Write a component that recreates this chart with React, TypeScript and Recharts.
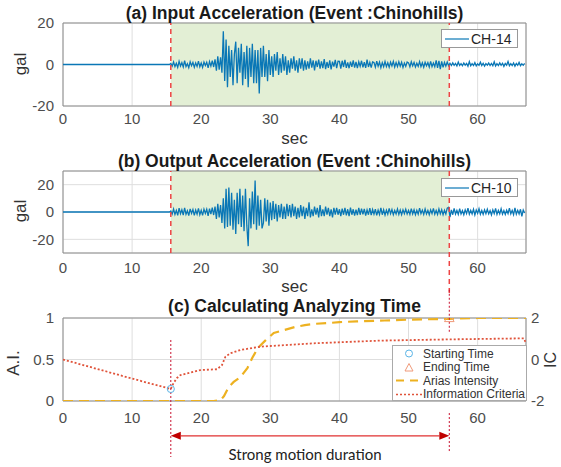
import {
  CartesianGrid,
  ComposedChart,
  Legend,
  Line,
  ReferenceArea,
  ReferenceLine,
  Scatter,
  XAxis,
  YAxis,
  ZAxis,
} from "recharts";

const FONT = "'Liberation Sans', Arial, sans-serif";

// ---- data ----
const timeTicks = [0, 10, 20, 30, 40, 50, 60];
const inputTicks = [-20, 0, 20];
const outputTicks = [-20, 0, 20];
const aiTicks = [0, 0.5, 1];
const icTicks = [-2, 0, 2];

const startTime = 15.6;
const endTime = 55.9;

// quiet part before the first arrival (flat zero)
const quietTimes = [0, 15.4];
// sampled part of the records
const sampleStart = 15.6;
const sampleStep = 0.2;

// (a) CH-14, gal
const inputAcc = [
  0.5, -0.8, 1.2, -1.0, 0.6, -1.4, 1.5, -0.7, 0.9, -1.2, 1.8, -1.0, 0.4, -1.5, 1.3, -0.6,
  1.0, -1.3, 0.8, -0.9, 1.6, -1.1, 0.7, -1.4, 1.2, -0.5, 1.1, -1.6, 1.4, -0.8, 1.9, -1.2,
  2.5, -3.0, 4.0, -2.5, 3.5,
  -4, 16, -8, 12, -11,
  9, -6, 7, -10, 5,
  11, -9, 8, -4, 10,
  -10, 6, -7, 9, -11,
  8, -6, 10, -9, 7,
  -9, 7, -14, 8, -6,
  9, -6, 5, -8, 7,
  -5, 4, -6, 5, -3,
  6, -5, 3, -4, 5,
  -3, 4, -5, 2, -4,
  3, -2, 4, -3, 2,
  -4, 3, -2, 3, -3,
  2, -2.5, 1.5, -2, 3, -1.5, 2, -2.8, 1.8, -1.2, 2.4, -2, 1.5, -1.8, 2.6, -2.2, 1.2, -1.6, 2,
  -2.4, 1.4, -1, 2.2, -1.8, 1.6,
  1.5, -2, 1.8, -1.2, 2.2, -1.6, 1, -1.8, 1.4, -1.1, 2, -1.5, 1.2, -1.7, 1.3, -0.9, 1.8, -1.4,
  1.1, -1.6, 2.4, -1.2, 1, -1.5, 1.3,
  1, -1.3, 1.6, -0.8, 1.2, -1.5, 0.9, -1.1, 1.4, -1, 0.8, -1.3, 1.1, -0.7, 1.5, -1.2, 0.9, -1,
  1.3, -0.8, 1.1, -1.4, 0.7, -0.9, 1.2,
  0.8, -1.1, 1.3, -0.7, 1, -1.2, 0.6, -0.9, 1.4, -1, 0.8, -1.3, 1.1, -0.6, 0.9, -1.2, 1.5, -1,
  0.7, -1.1, 2, -1.6, 1.8, -2.2, 1.5, -1.4, 1, -0.8, 1.2, -0.6,
  0.6, -0.5, 0.8, -0.4, 0.5, -0.7, 1.2, -0.5, 0.4, -0.6, 0.7, -0.3, 0.5, -0.8, 1.4, -0.6, 0.4,
  -0.5, 0.9, -0.7, 0.3, -0.4, 1.1, -0.5, 0.6, -0.8, 0.4, -0.3, 0.7, -0.5, 0.5, -0.6, 1.3, -0.7,
  0.4, -0.5, 0.8, -0.4, 0.6, -0.9, 0.5, -0.3, 1.5, -0.6, 0.4, -0.5, 0.7, -0.8, 0.5, -0.4, 1,
  -0.6, 0.3, -0.4, 0.5,
];

// (b) CH-10, gal
const outputAcc = [
  0.8, -1.5, 2.2, -1.8, 1.2, -2.4, 2.8, -1.3, 1.6, -2.2, 3, -1.7, 0.9, -2.6, 2.3, -1.1, 1.8,
  -2.5, 1.4, -1.6, 2.7, -2, 1.2, -2.5, 2.1, -1, 2, -2.8, 2.5, -1.5, 3.2, -2.2,
  4, -5, 6, -4, 5,
  -8, 10, -12, 17, -11,
  18, -10, 14, -13, 9,
  -16, 14, -9, 17, -11,
  12, -14, 17, -10, -25,
  10, -12, 15, -9, 23,
  -13, 12, -10, 9, -12,
  -8, 10, -7, 9, -10,
  7, -6, 8, -5, 6,
  -7, 5, -4, 6, -5,
  4, -5, 6, -3, 5,
  -4, 6, -3, 4, -5,
  3, -4, 5, -3, 4,
  -5, 3, -3, 7, -4, 2, -3, 4, -2, 3, -4, 5, -3, 2, -3, 4, -2, 3, -3, 2, -4, 3, -2, 3, -2,
  2, -3, 2.5, -2, 3, -2.5, 2, -3, 3.2, -2, 2, -2.6, 1.8, -2.2, 3, -2, 2.4, -1.8, 2.2, -2.6,
  1.6, -2, 2.8, -2.2, 1.8,
  -1.6, 2, -2.4, 1.4, -1.8, 3, -2, 1.6, -2.2, 1.4, -1.6, 2.6, -1.2, 1.8, -2, 1.2, -1.4, 2.2,
  -1.8, 1.4, -2, 1.6, -1.2, 2, -1.4,
  1.2, -1.8, 2.4, -1.4, 1.6, -2, 1.2, -1.6, 2.8, -1.2, 1.4, -1.8, 2.2, -1.4, 1.2, -2, 1.6,
  -1.2, 2.6, -1.6, 1.2, -1.8, 2.2, -1.4, 1.6, -2, 1.2, -1.5, 2.8, 3.4,
  -3.8, 1.5, -2, 2.6, -1.5, 1.2, -1.8, 2.4, -1.4, 1, -2, 1.6, -1.2, 2.8, -1.6, 1.2, -1.4, 2,
  -2.2, 1.4, -1, 2.4, -1.6, 1.2, -1.8, 1.6, -1.2, 2, -1.4, 1, -2.2, 1.6, -1.2, 2.6, -1.8, 1.2,
  -1.4, 2.4, -1.6, 1, -1.8, 1.4, -1.2, 2.8, -1.4, 1.2, -2, 3, -1.6, 1.2, -1.4, 2, -3.2, 1.4,
  -0.8,
];

// (c) Arias intensity (left axis, 0..1)
const aiTimes = [0, 21.8, 22.8, 23.3, 24.0, 24.7, 25.7, 26.7, 27.4, 28.2, 29.3, 30.5, 32, 33.5, 35, 36.5, 38.5, 40, 42.5, 46.5, 50, 55.9, 60, 67];
const aiValues = [0, 0, 0.01, 0.06, 0.17, 0.23, 0.29, 0.4, 0.52, 0.64, 0.73, 0.82, 0.855, 0.89, 0.915, 0.93, 0.94, 0.95, 0.96, 0.97, 0.98, 0.99, 1.0, 1.0];

// (c) Information criteria (right axis, -2..2)
const icTimes = [0, 10, 15.6, 16, 16.5, 17, 19.9, 22.3, 23.0, 23.5, 24.2, 25.7, 28.6, 30, 36.2, 45.9, 56, 66.7, 67];
const icValues = [0, -0.92, -1.42, -1.13, -0.89, -0.75, -0.51, -0.47, -0.27, 0.13, 0.3, 0.46, 0.62, 0.65, 0.78, 0.91, 0.97, 1.02, 0.78];

const startMarkerIc = -1.42;
const endMarkerAi = 0.99;

type Pt = { t: number; v: number };

function toRecord(values: number[]): Pt[] {
  const lead = quietTimes.map((t) => ({ t, v: 0 }));
  const rest = values.map((v, i) => ({ t: Number((sampleStart + i * sampleStep).toFixed(2)), v }));
  return lead.concat(rest);
}

function zipSeries(times: number[], values: number[]): Pt[] {
  return times.map((t, i) => ({ t, v: values[i] }));
}

const inputData = toRecord(inputAcc);
const outputData = toRecord(outputAcc);
const aiData = zipSeries(aiTimes, aiValues);
const icData = zipSeries(icTimes, icValues);

const tickStyle = { fontFamily: FONT, fontSize: 15, fill: "#4d4d4d" };
const RED = "#ee4444";
const GRID = "#dedede";
const BOX = "#8c8c8c";
const TRACE = "#0a77b6";

function TraceLegend({ label }: { label: string }) {
  return (
    <div
      style={{
        boxSizing: "border-box",
        width: 77,
        height: 19,
        border: "1px solid #999",
        background: "#fff",
        display: "flex",
        alignItems: "center",
        fontFamily: FONT,
        fontSize: 14,
        color: "#262626",
      }}
    >
      <svg width={28} height={10}>
        <line x1={3} y1={5} x2={27} y2={5} stroke={TRACE} strokeWidth={1.2} />
      </svg>
      <span style={{ marginLeft: 1 }}>{label}</span>
    </div>
  );
}

type AccPanelProps = {
  top: number;
  height: number;
  xAxisHeight: number;
  tickGap: number;
  data: Pt[];
  yDomain: [number, number];
  yTicks: number[];
  name: string;
  legendTop: number;
  endLineTo?: number;
};

function AccPanel({ top, height, xAxisHeight, tickGap, data, yDomain, yTicks, name, legendTop, endLineTo }: AccPanelProps) {
  return (
    <div style={{ position: "absolute", left: 0, top }}>
      <ComposedChart width={561} height={height} margin={{ top: 23, right: 35, bottom: 0, left: 0 }}>
        <XAxis
          dataKey="t"
          type="number"
          domain={[0, 67]}
          ticks={timeTicks}
          allowDataOverflow
          tick={tickStyle}
          tickLine={false}
          tickSize={0}
          tickMargin={tickGap}
          axisLine={false}
          height={xAxisHeight}
        />
        <YAxis
          type="number"
          domain={yDomain}
          ticks={yTicks}
          allowDataOverflow
          width={63}
          tick={tickStyle}
          tickLine={false}
          tickSize={0}
          tickMargin={9}
          axisLine={false}
        />
        <ReferenceArea x1={startTime} x2={endTime} fill="#e3efd5" fillOpacity={1} stroke="none" />
        <CartesianGrid stroke={GRID} />
        <Line
          data={data}
          dataKey="v"
          name={name}
          stroke={TRACE}
          strokeWidth={1.3}
          dot={false}
          activeDot={false}
          isAnimationActive={false}
        />
        <ReferenceLine x={startTime} stroke={RED} strokeWidth={1.5} strokeDasharray="5 4" />
        {endLineTo === undefined ? (
          <ReferenceLine x={endTime} stroke={RED} strokeWidth={1.5} strokeDasharray="5 4" />
        ) : (
          <ReferenceLine
            segment={[
              { x: endTime, y: yDomain[1] },
              { x: endTime, y: endLineTo },
            ]}
            ifOverflow="visible"
            stroke={RED}
            strokeWidth={1.5}
            strokeDasharray="5 4"
          />
        )}
        <ReferenceArea x1={0} x2={67} y1={yDomain[0]} y2={yDomain[1]} fill="none" stroke={BOX} strokeWidth={1} />
        <Legend
          layout="vertical"
          align="center"
          verticalAlign="middle"
          wrapperStyle={{ left: 441, top: legendTop, width: 77, height: 19 }}
          content={() => <TraceLegend label={name} />}
        />
      </ComposedChart>
    </div>
  );
}

const ciLegend = [
  { label: "Starting Time", kind: "circle", color: "#5ab4e6" },
  { label: "Ending Time", kind: "triangle", color: "#f09a7a" },
  { label: "Arias Intensity", kind: "dash", color: "#EDB120" },
  { label: "Information Criteria", kind: "dot", color: "#e0533a" },
];

function LegendIcon({ kind, color }: { kind: string; color: string }) {
  return (
    <svg width={30} height={13} style={{ flex: "none" }}>
      {kind === "circle" && <circle cx={16} cy={6.5} r={3.5} fill="none" stroke={color} strokeWidth={1} />}
      {kind === "triangle" && <polygon points="16,2.5 20,10 12,10" fill="none" stroke={color} strokeWidth={1} />}
      {kind === "dash" && <line x1={3} y1={6.5} x2={29} y2={6.5} stroke={color} strokeWidth={2} strokeDasharray="8 6" />}
      {kind === "dot" && <line x1={3} y1={6.5} x2={29} y2={6.5} stroke={color} strokeWidth={1.6} strokeDasharray="2 2" />}
    </svg>
  );
}

function CiLegend() {
  return (
    <div
      style={{
        boxSizing: "border-box",
        width: 135,
        height: 56,
        border: "1px solid #aaa",
        background: "#fff",
        padding: "1px 0 0 0",
        fontFamily: FONT,
        fontSize: 12,
        color: "#333",
      }}
    >
      {ciLegend.map((item) => (
        <div key={item.label} style={{ display: "flex", alignItems: "center", height: 13.5, whiteSpace: "nowrap" }}>
          <LegendIcon kind={item.kind} color={item.color} />
          <span>{item.label}</span>
        </div>
      ))}
    </div>
  );
}

type ArrowProps = { x1?: number; y1?: number; x2?: number; y2?: number };

function ArrowShape({ x1 = 0, y1 = 0, x2 = 0, y2 = 0 }: ArrowProps) {
  const h = 10;
  const w = 4;
  return (
    <g>
      <line x1={x1 + h} y1={y1} x2={x2 - h} y2={y2} stroke="#e03030" strokeWidth={1.2} />
      <polygon points={`${x1},${y1} ${x1 + h},${y1 - w} ${x1 + h},${y1 + w}`} fill="#c00000" />
      <polygon points={`${x2},${y2} ${x2 - h},${y2 - w} ${x2 - h},${y2 + w}`} fill="#c00000" />
    </g>
  );
}

const DARK_RED = "#c8102e";

function CriteriaPanel() {
  return (
    <div style={{ position: "absolute", left: 0, top: 288 }}>
      <ComposedChart width={561} height={179} margin={{ top: 30, right: 0, bottom: 0, left: 0 }}>
        <XAxis
          dataKey="t"
          type="number"
          domain={[0, 67]}
          ticks={timeTicks}
          allowDataOverflow
          tick={tickStyle}
          tickLine={false}
          tickSize={0}
          tickMargin={11}
          axisLine={false}
          height={66}
        />
        <YAxis
          yAxisId="ai"
          type="number"
          domain={[0, 1]}
          ticks={aiTicks}
          allowDataOverflow
          width={63}
          tick={tickStyle}
          tickLine={false}
          tickSize={0}
          tickMargin={9}
          axisLine={false}
        />
        <YAxis
          yAxisId="ic"
          orientation="right"
          type="number"
          domain={[-2, 2]}
          ticks={icTicks}
          allowDataOverflow
          width={35}
          tick={tickStyle}
          tickLine={false}
          tickSize={0}
          tickMargin={5}
          axisLine={false}
        />
        <ZAxis range={[40, 40]} />
        <CartesianGrid stroke={GRID} yAxisId="ai" />
        <Line
          data={aiData}
          yAxisId="ai"
          dataKey="v"
          name="Arias Intensity"
          stroke="#EDB120"
          strokeWidth={2.2}
          strokeDasharray="10 6"
          dot={false}
          activeDot={false}
          isAnimationActive={false}
        />
        <Line
          data={icData}
          yAxisId="ic"
          dataKey="v"
          name="Information Criteria"
          stroke="#e0533a"
          strokeWidth={1.8}
          strokeDasharray="2 2"
          dot={false}
          activeDot={false}
          isAnimationActive={false}
        />
        <Scatter
          data={[{ t: startTime, v: startMarkerIc }]}
          yAxisId="ic"
          dataKey="v"
          name="Starting Time"
          shape="circle"
          fill="none"
          stroke="#5ab4e6"
          isAnimationActive={false}
        />
        <Scatter
          data={[{ t: endTime, v: endMarkerAi }]}
          yAxisId="ai"
          dataKey="v"
          name="Ending Time"
          shape="triangle"
          fill="none"
          stroke="#f09a7a"
          isAnimationActive={false}
        />
        <ReferenceLine
          yAxisId="ai"
          segment={[
            { x: startTime, y: 0.735 },
            { x: startTime, y: -0.675 },
          ]}
          ifOverflow="visible"
          stroke={DARK_RED}
          strokeWidth={1}
          strokeDasharray="2 2"
        />
        <ReferenceLine
          yAxisId="ai"
          segment={[
            { x: endTime, y: 1.34 },
            { x: endTime, y: 0.83 },
          ]}
          ifOverflow="visible"
          stroke={DARK_RED}
          strokeWidth={1}
          strokeDasharray="2 2"
        />
        <ReferenceLine
          yAxisId="ai"
          segment={[
            { x: endTime, y: -0.145 },
            { x: endTime, y: -0.627 },
          ]}
          ifOverflow="visible"
          stroke={DARK_RED}
          strokeWidth={1}
          strokeDasharray="2 2"
        />
        <ReferenceLine
          yAxisId="ai"
          segment={[
            { x: startTime, y: -0.42 },
            { x: endTime, y: -0.42 },
          ]}
          ifOverflow="visible"
          shape={(p: ArrowProps) => <ArrowShape {...p} />}
        />
        <ReferenceArea yAxisId="ai" x1={0} x2={67} y1={0} y2={1} fill="none" stroke={BOX} strokeWidth={1} />
        <Legend
          layout="vertical"
          align="center"
          verticalAlign="middle"
          wrapperStyle={{ left: 392, top: 57, width: 135, height: 56 }}
          content={() => <CiLegend />}
        />
      </ComposedChart>
    </div>
  );
}

function Title({ top, children }: { top: number; children: string }) {
  return (
    <div
      style={{
        position: "absolute",
        left: 63,
        top,
        width: 463,
        textAlign: "center",
        lineHeight: "20px",
        fontFamily: FONT,
        fontWeight: "bold",
        fontSize: 17.5,
        color: "#1a1a1a",
        whiteSpace: "nowrap",
      }}
    >
      {children}
    </div>
  );
}

function AxisLabel({ cx, cy, rotate, size, children }: { cx: number; cy: number; rotate?: boolean; size: number; children: string }) {
  return (
    <div
      style={{
        position: "absolute",
        left: cx - 40,
        top: cy - 10,
        width: 80,
        height: 20,
        lineHeight: "20px",
        textAlign: "center",
        fontFamily: FONT,
        fontSize: size,
        color: "#333",
        transform: rotate ? "rotate(-90deg)" : undefined,
        whiteSpace: "nowrap",
      }}
    >
      {children}
    </div>
  );
}

export default function App() {
  return (
    <div
      style={{
        position: "absolute",
        left: 0,
        top: 0,
        width: 561,
        height: 467,
        background: "#fff",
        overflow: "hidden",
      }}
    >
      <AccPanel
        top={0}
        height={150}
        xAxisHeight={44}
        tickGap={7}
        data={inputData}
        yDomain={[-20, 20]}
        yTicks={inputTicks}
        name="CH-14"
        legendTop={29}
      />
      <AccPanel
        top={148}
        height={152}
        xAxisHeight={47}
        tickGap={9}
        data={outputData}
        yDomain={[-30, 30]}
        yTicks={outputTicks}
        name="CH-10"
        legendTop={30}
        endLineTo={-60}
      />
      <CriteriaPanel />

      <Title top={3}>(a) Input Acceleration (Event :Chinohills)</Title>
      <Title top={151}>(b) Output Acceleration (Event :Chinohills)</Title>
      <Title top={296}>(c) Calculating Analyzing Time</Title>

      <AxisLabel cx={294.5} cy={139} size={17}>sec</AxisLabel>
      <AxisLabel cx={294.5} cy={287} size={17}>sec</AxisLabel>
      <AxisLabel cx={21} cy={64} size={17} rotate>gal</AxisLabel>
      <AxisLabel cx={21} cy={211} size={17} rotate>gal</AxisLabel>
      <AxisLabel cx={14} cy={363} size={17} rotate>A.I.</AxisLabel>
      <AxisLabel cx={551} cy={360} size={16} rotate>IC</AxisLabel>

      <div
        style={{
          position: "absolute",
          left: 205,
          top: 444,
          width: 200,
          lineHeight: "20px",
          textAlign: "center",
          fontFamily: "Lato, 'Open Sans', sans-serif",
          fontSize: 15,
          color: "#222",
        }}
      >
        Strong motion duration
      </div>
    </div>
  );
}
